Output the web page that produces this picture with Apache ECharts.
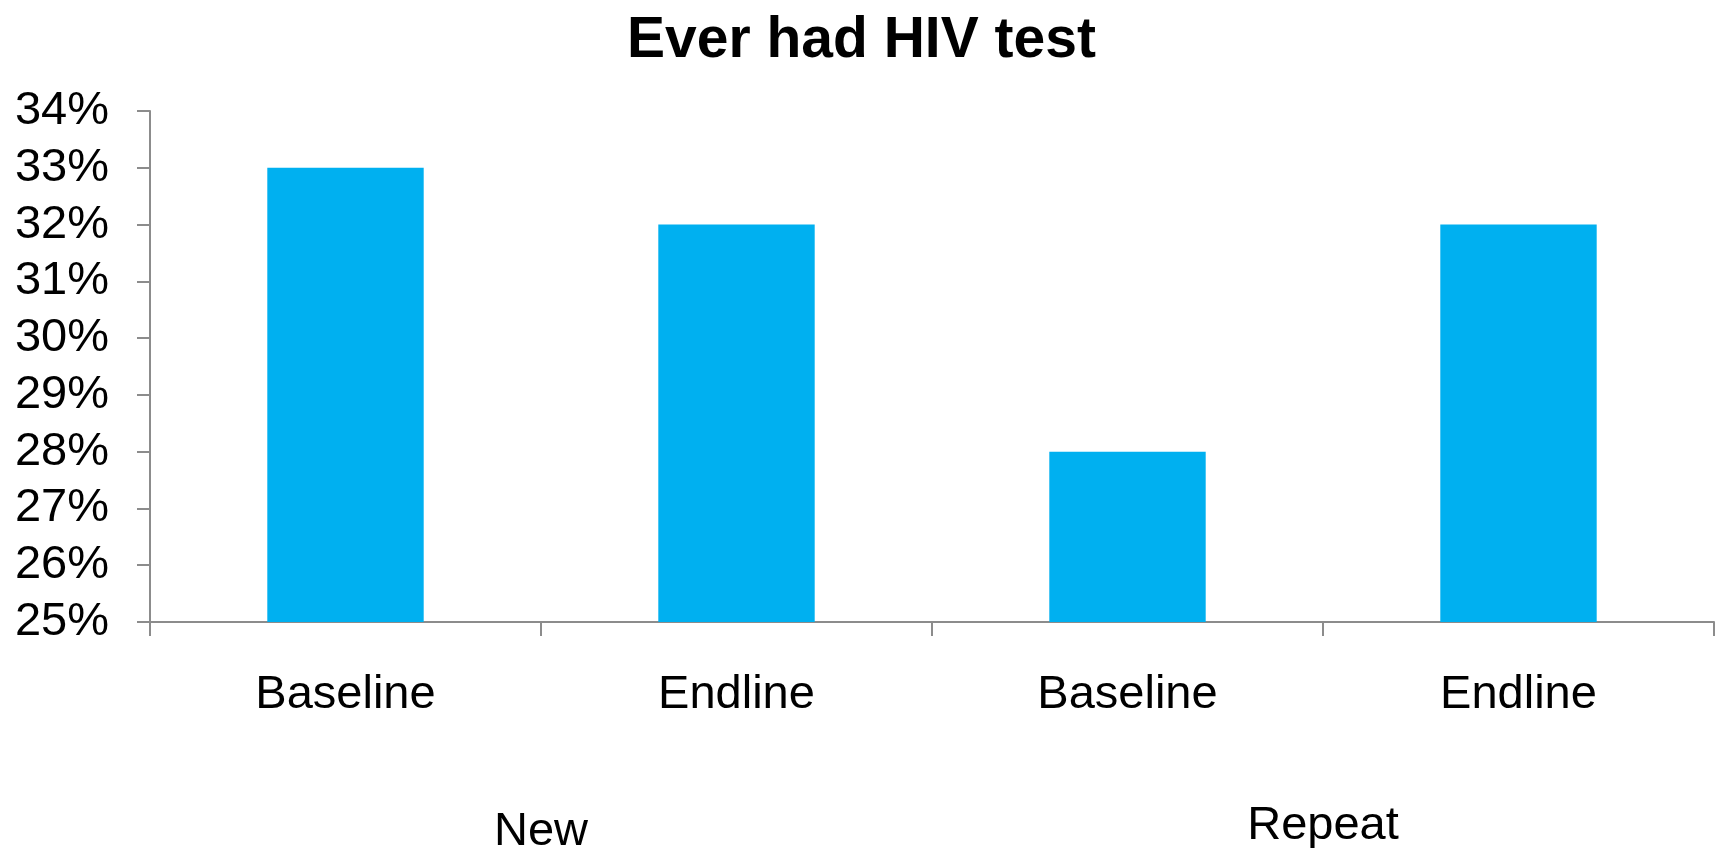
<!DOCTYPE html>
<html>
<head>
<meta charset="utf-8">
<script src="https://cdn.jsdelivr.net/npm/echarts@6/dist/echarts.min.js"></script>
<style>
  html, body { margin: 0; padding: 0; background: #ffffff; }
  #chart { width: 1723px; height: 848px; }
</style>
</head>
<body>
<div id="chart"></div>
<script>
// Share of respondents who ever had an HIV test, by group and survey round
const categories = ['Baseline', 'Endline', 'Baseline', 'Endline'];
const groups = ['New', 'Repeat'];
const values = [33, 32, 28, 32];
const yTicks = { min: 25, max: 34, step: 1 };

const FONT = '"Liberation Sans", Arial, sans-serif';
const AXIS_GRAY = '#8c8c8c';

const chart = echarts.init(document.getElementById('chart'), null, { renderer: 'canvas' });

chart.setOption({
  backgroundColor: '#ffffff',
  animation: false,
  title: {
    text: 'Ever had HIV test',
    left: 'center',
    top: 8,
    textStyle: { fontFamily: FONT, fontWeight: 'bold', fontSize: 57, color: '#000000' }
  },
  grid: { left: 150, right: 9, top: 111, bottom: 226, containLabel: false, outerBoundsMode: 'none' },
  xAxis: [
    {
      type: 'category',
      data: categories,
      position: 'bottom',
      axisLine: { lineStyle: { color: AXIS_GRAY, width: 2 } },
      axisTick: { show: true, length: 14, lineStyle: { color: AXIS_GRAY, width: 2 } },
      axisLabel: { margin: 50, fontFamily: FONT, fontSize: 47, color: '#000000', interval: 0 }
    },
    {
      type: 'category',
      data: groups,
      position: 'bottom',
      axisLine: { show: false },
      axisTick: { show: false },
      axisLabel: {
        margin: 181,
        interval: 0,
        fontFamily: FONT,
        fontSize: 47,
        color: '#000000',
        formatter: function (v) { return v === 'New' ? '{n|' + v + '}' : '{r|' + v + '}'; },
        rich: {
          n: { fontFamily: FONT, fontSize: 47, color: '#000000', padding: [6, 0, 0, 0] },
          r: { fontFamily: FONT, fontSize: 47, color: '#000000' }
        }
      }
    }
  ],
  yAxis: {
    type: 'value',
    min: yTicks.min,
    max: yTicks.max,
    interval: yTicks.step,
    axisLine: { show: true, lineStyle: { color: AXIS_GRAY, width: 2 } },
    axisTick: { show: true, length: 13, lineStyle: { color: AXIS_GRAY, width: 2 } },
    splitLine: { show: false },
    axisLabel: {
      margin: 41,
      fontFamily: FONT,
      fontSize: 47,
      color: '#000000',
      formatter: function (v) { return v + '%'; }
    }
  },
  series: [
    {
      type: 'bar',
      xAxisIndex: 0,
      data: values,
      barCategoryGap: '60%',
      itemStyle: { color: '#00B0F0' }
    }
  ]
});
</script>
</body>
</html>
